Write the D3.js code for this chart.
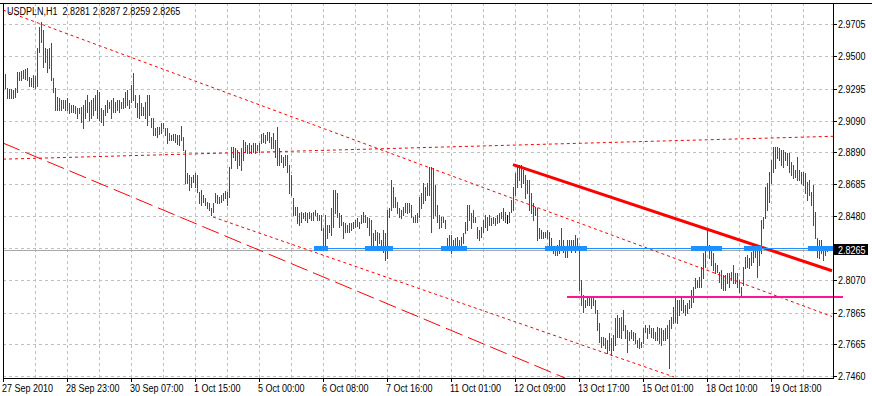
<!DOCTYPE html>
<html><head><meta charset="utf-8">
<script src="https://cdn.jsdelivr.net/npm/d3@7"></script>
<style>
html,body{margin:0;padding:0;background:#fff;overflow:hidden;}
svg{display:block;font-family:"Liberation Sans",Arial,sans-serif;font-size:11px;}
</style></head><body><svg id="c" width="872" height="396"></svg>
<script>
// ---------------- data ----------------
const symbolTitle = "USDPLN,H1  2.8281 2.8287 2.8259 2.8265";
const timeLabels = ["27 Sep 2010","28 Sep 23:00","30 Sep 07:00","1 Oct 15:00","5 Oct 00:00","6 Oct 08:00","7 Oct 16:00","11 Oct 01:00","12 Oct 09:00","13 Oct 17:00","15 Oct 01:00","18 Oct 10:00","19 Oct 18:00"];
const timeLabelBars = [0,32,64,96,128,160,192,224,256,288,320,352,384];
const priceTicks = [2.9705,2.9500,2.9295,2.9090,2.8890,2.8685,2.8480,2.8275,2.8070,2.7865,2.7665,2.7460];
const lastPrice = 2.8265;

// H1 bars: high, low, direction (G = up, R = down, D = unchanged)
const high = [
2.9381,2.9387,2.9298,2.9291,2.9291,2.9286,2.9298,2.9400,2.9400,2.9407,
2.9413,2.9419,2.9426,2.9368,2.9362,2.9381,2.9375,2.9554,2.9687,2.9719,
2.9669,2.9554,2.9547,2.9554,2.9586,2.9362,2.9298,2.9241,2.9235,2.9222,
2.9222,2.9222,2.9235,2.9203,2.9190,2.9190,2.9184,2.9171,2.9171,2.9177,
2.9190,2.9222,2.9254,2.9209,2.9222,2.9235,2.9254,2.9286,2.9273,2.9171,
2.9158,2.9190,2.9222,2.9209,2.9222,2.9235,2.9209,2.9222,2.9222,2.9209,
2.9235,2.9273,2.9286,2.9222,2.9317,2.9394,2.9254,2.9203,2.9254,2.9203,
2.9177,2.9209,2.9254,2.9254,2.9107,2.9107,2.9043,2.9049,2.9049,2.9075,
2.9075,2.9043,2.9043,2.9011,2.8998,2.9004,2.9004,2.8998,2.8998,2.9056,
2.8985,2.8903,2.8756,2.8743,2.8730,2.8743,2.8756,2.8743,2.8634,2.8647,
2.8615,2.8596,2.8571,2.8565,2.8533,2.8565,2.8628,2.8615,2.8602,2.8615,
2.8628,2.8641,2.8634,2.8794,2.8921,2.8921,2.8915,2.8903,2.8884,2.8915,
2.8966,2.8953,2.8934,2.8947,2.8934,2.8947,2.8947,2.8934,2.8947,2.9004,
2.9011,2.8998,2.9017,2.9017,2.8985,2.9011,2.8966,2.9049,2.8915,2.8871,
2.8858,2.8871,2.8871,2.8807,2.8743,2.8596,2.8539,2.8539,2.8501,2.8507,
2.8501,2.8507,2.8501,2.8507,2.8501,2.8507,2.8520,2.8501,2.8488,2.8488,
2.8405,2.8488,2.8424,2.8424,2.8533,2.8647,2.8647,2.8628,2.8501,2.8488,
2.8443,2.8437,2.8424,2.8437,2.8437,2.8443,2.8456,2.8469,2.8443,2.8488,
2.8507,2.8488,2.8475,2.8469,2.8456,2.8373,2.8392,2.8379,2.8373,2.8328,
2.8392,2.8373,2.8520,2.8533,2.8711,2.8666,2.8602,2.8571,2.8533,2.8520,
2.8539,2.8565,2.8565,2.8565,2.8552,2.8475,2.8488,2.8501,2.8602,2.8628,
2.8692,2.8666,2.8692,2.8794,2.8794,2.8788,2.8679,2.8552,2.8488,2.8475,
2.8475,2.8456,2.8341,2.8360,2.8360,2.8328,2.8341,2.8347,2.8328,2.8347,
2.8373,2.8443,2.8552,2.8552,2.8501,2.8520,2.8475,2.8411,2.8392,2.8411,
2.8456,2.8488,2.8475,2.8488,2.8469,2.8475,2.8469,2.8488,2.8501,2.8507,
2.8533,2.8507,2.8488,2.8507,2.8584,2.8666,2.8756,2.8807,2.8807,2.8807,
2.8775,2.8743,2.8711,2.8711,2.8628,2.8565,2.8539,2.8533,2.8405,2.8392,
2.8379,2.8379,2.8392,2.8379,2.8341,2.8283,2.8277,2.8296,2.8328,2.8405,
2.8328,2.8283,2.8328,2.8328,2.8328,2.8328,2.8360,2.8341,2.8277,2.8073,
2.7977,2.7945,2.7958,2.7958,2.7958,2.7958,2.7945,2.7881,2.7798,2.7709,
2.7709,2.7703,2.7690,2.7735,2.7703,2.7722,2.7830,2.7849,2.7830,2.7836,
2.7881,2.7786,2.7754,2.7741,2.7754,2.7741,2.7735,2.7690,2.7703,2.7677,
2.7767,2.7786,2.7767,2.7786,2.7767,2.7767,2.7741,2.7773,2.7767,2.7767,
2.7754,2.7767,2.7786,2.7817,2.7836,2.7900,2.7958,2.7945,2.7945,2.7958,
2.7945,2.7913,2.7926,2.7945,2.8009,2.8028,2.8086,2.8073,2.8092,2.8156,
2.8245,2.8277,2.8405,2.8296,2.8264,2.8245,2.8181,2.8169,2.8124,2.8137,
2.8105,2.8105,2.8118,2.8118,2.8124,2.8169,2.8118,2.8118,2.8073,2.8028,
2.8156,2.8219,2.8232,2.8213,2.8251,2.8264,2.8277,2.8283,2.8264,2.8456,
2.8475,2.8666,2.8692,2.8762,2.8839,2.8921,2.8921,2.8921,2.8915,2.8903,
2.8903,2.8890,2.8884,2.8884,2.8826,2.8807,2.8775,2.8858,2.8775,2.8762,
2.8762,2.8756,2.8698,2.8711,2.8634,2.8679,2.8507,2.8341,2.8328,2.8328,
2.8283,2.8290,2.8287];
const low = [
2.9216,2.9298,2.9235,2.9235,2.9235,2.9235,2.9241,2.9273,2.9349,2.9349,
2.9362,2.9355,2.9349,2.9311,2.9311,2.9304,2.9298,2.9311,2.9528,2.9592,
2.9432,2.9464,2.9400,2.9426,2.9349,2.9273,2.9158,2.9158,2.9158,2.9158,
2.9171,2.9158,2.9158,2.9139,2.9145,2.9145,2.9139,2.9107,2.9139,2.9081,
2.9043,2.9107,2.9145,2.9094,2.9107,2.9126,2.9158,2.9107,2.9094,2.9081,
2.9062,2.9126,2.9145,2.9171,2.9107,2.9145,2.9145,2.9158,2.9145,2.9171,
2.9171,2.9177,2.9190,2.9171,2.9209,2.9222,2.9177,2.9113,2.9107,2.9126,
2.9126,2.9107,2.9062,2.9126,2.9049,2.8998,2.8998,2.8985,2.9004,2.9011,
2.9043,2.8998,2.8947,2.8966,2.8966,2.8966,2.8953,2.8940,2.8934,2.8966,
2.8903,2.8692,2.8692,2.8647,2.8666,2.8698,2.8666,2.8634,2.8565,2.8552,
2.8571,2.8552,2.8533,2.8520,2.8488,2.8507,2.8571,2.8565,2.8565,2.8571,
2.8584,2.8596,2.8552,2.8602,2.8788,2.8858,2.8839,2.8788,2.8807,2.8775,
2.8839,2.8890,2.8884,2.8884,2.8884,2.8890,2.8884,2.8903,2.8890,2.8947,
2.8953,2.8947,2.8966,2.8953,2.8915,2.8915,2.8858,2.8807,2.8807,2.8826,
2.8794,2.8807,2.8762,2.8628,2.8615,2.8488,2.8488,2.8437,2.8424,2.8443,
2.8469,2.8456,2.8443,2.8469,2.8456,2.8456,2.8488,2.8456,2.8456,2.8392,
2.8296,2.8296,2.8341,2.8379,2.8360,2.8411,2.8501,2.8475,2.8411,2.8424,
2.8341,2.8379,2.8379,2.8379,2.8392,2.8405,2.8411,2.8418,2.8405,2.8437,
2.8443,2.8443,2.8411,2.8360,2.8283,2.8283,2.8328,2.8283,2.8309,2.8264,
2.8251,2.8200,2.8213,2.8475,2.8520,2.8539,2.8539,2.8501,2.8475,2.8469,
2.8488,2.8507,2.8501,2.8507,2.8475,2.8443,2.8443,2.8443,2.8475,2.8533,
2.8565,2.8584,2.8615,2.8615,2.8379,2.8469,2.8488,2.8443,2.8405,2.8411,
2.8443,2.8405,2.8277,2.8264,2.8245,2.8277,2.8277,2.8283,2.8283,2.8283,
2.8309,2.8373,2.8392,2.8456,2.8405,2.8443,2.8443,2.8341,2.8328,2.8347,
2.8379,2.8411,2.8392,2.8424,2.8424,2.8437,2.8424,2.8437,2.8443,2.8469,
2.8456,2.8443,2.8437,2.8443,2.8507,2.8520,2.8615,2.8666,2.8711,2.8666,
2.8692,2.8596,2.8628,2.8520,2.8501,2.8456,2.8488,2.8328,2.8341,2.8341,
2.8341,2.8347,2.8341,2.8296,2.8264,2.8245,2.8232,2.8232,2.8245,2.8277,
2.8251,2.8219,2.8219,2.8264,2.8251,2.8264,2.8251,2.8277,2.8009,2.7913,
2.7868,2.7900,2.7913,2.7913,2.7894,2.7913,2.7862,2.7754,2.7677,2.7645,
2.7658,2.7639,2.7607,2.7626,2.7594,2.7626,2.7658,2.7709,2.7709,2.7703,
2.7754,2.7703,2.7613,2.7690,2.7703,2.7690,2.7671,2.7645,2.7639,2.7645,
2.7671,2.7741,2.7703,2.7735,2.7709,2.7703,2.7690,2.7690,2.7671,2.7658,
2.7690,2.7690,2.7703,2.7511,2.7767,2.7798,2.7804,2.7798,2.7849,2.7881,
2.7868,2.7849,2.7862,2.7894,2.7900,2.7932,2.8022,2.8028,2.8028,2.8028,
2.8086,2.8156,2.8264,2.8213,2.8169,2.8137,2.8118,2.8124,2.8060,2.8022,
2.8009,2.8009,2.8054,2.8028,2.8073,2.8054,2.8054,2.8028,2.7996,2.7964,
2.8041,2.8150,2.8156,2.8150,2.8169,2.8187,2.8219,2.8092,2.8169,2.8245,
2.8405,2.8469,2.8520,2.8571,2.8692,2.8762,2.8788,2.8852,2.8839,2.8807,
2.8794,2.8839,2.8807,2.8762,2.8743,2.8724,2.8730,2.8711,2.8711,2.8692,
2.8679,2.8628,2.8584,2.8615,2.8552,2.8424,2.8341,2.8219,2.8213,2.8245,
2.8200,2.8232,2.8259];
const barDir = (
"GRRGRRGGRG"+"RGRRGRRGGR"+"GGRGRRRGRG"+"RRGRRGRRGR"+"GRGRGRGGRR"+
"RGGRRGRGRR"+"GGGGRRGGRG"+"RGRGRGRGRG"+"RRRRRRGRGR"+"RRRGRGRRRG"+
"RGRRGRRGRG"+"GGRGGRRRGR"+"GRGRGRRGRG"+"RGRGRRRRRG"+"RGRRRGGRGG"+
"GRGGRGGRGR"+"RRGGGGRRRG"+"GRRGGGGGRG"+"RRGRRRGGRR"+"RRGGGRRGRR"+
"GGGRRRGRGG"+"GRRGGRRRRR"+"GRRGRRGRGG"+"GGGRRGRRRG"+"GGRRGRGRGG"+
"GRDGGGGGRG"+"RRGRRRGRGR"+"GRGRRRRRGG"+"RRGRRGGRRR"+"RGGGRRRRRR"+
"GRRRRGGGRG"+"GRGRGGRRRR"+"GRGRRGRRRG"+"RGRGGGRGGG"+"RGRGGGGRGG"+
"RGGRRRGRRR"+"RRGRGRRRRR"+"GGRGGGRRRG"+"GGGRGGGRRG"+"RRGRRRRRRR"+
"GRRRRRRRGR"+"GGR").split("");

// chart objects (bar index, price)
const upperChannel = [[0,2.9796],[414.5,2.7840]];
const lowerChannel = [[105,2.8475],[335.5,2.7454]];
const flatDotted   = [[0,2.8844],[415,2.8990]];
const longDashLine = [[0,2.8947],[281,2.7447]];
const resistance   = [[255,2.8809],[414.5,2.8132]];
const supportLevel = {price:2.7964, from:282, to:420};
const blueLevel    = {price:2.8274, from:155.5, to:415};
const blueBlocks   = [[155.5,162.5],[181,195],[219,232],[271,292],[344,359.5],[370.5,379.5],[402.5,415]];

// ---------------- drawing ----------------
const W = 872, H = 396;
const L = 3, R = 833, T = 3, B = 378;
const NARROW = 0.82; // horizontal squeeze to emulate the narrow terminal font
const svg = d3.select("#c");
const x = d3.scaleLinear().domain([0,415]).range([L,R]);
const y = d3.scaleLinear().domain([2.7460,2.9860]).range([376,0]);
const crisp = v => Math.round(v)+0.5;

function narrowText(g, tx, ty, str, fill){
  return g.append("text")
    .attr("transform",`translate(${tx},${ty}) scale(${NARROW},1)`)
    .attr("fill",fill||"#000").style("white-space","pre").text(str);
}

svg.append("defs").append("clipPath").attr("id","plot")
  .append("rect").attr("x",L).attr("y",T).attr("width",R-L).attr("height",B-T);

const gGrid = svg.append("g").attr("shape-rendering","crispEdges");
gGrid.selectAll("line.v").data(d3.range(16,405,16)).join("line")
  .attr("x1",d=>crisp(x(d))).attr("x2",d=>crisp(x(d)))
  .attr("y1",T).attr("y2",B)
  .attr("stroke","#c0c0c0").attr("stroke-dasharray","3,3");
gGrid.selectAll("line.h").data(priceTicks).join("line")
  .attr("x1",L).attr("x2",R)
  .attr("y1",d=>crisp(y(d))).attr("y2",d=>crisp(y(d)))
  .attr("stroke","#c0c0c0").attr("stroke-dasharray","3,3");

const plot = svg.append("g").attr("clip-path","url(#plot)");

// bid line
plot.append("line").attr("shape-rendering","crispEdges")
  .attr("x1",L).attr("x2",R)
  .attr("y1",crisp(y(lastPrice))).attr("y2",crisp(y(lastPrice)))
  .attr("stroke","#a8a8a8");

// bars
const colorOf = {G:"#008000", R:"#ff0000", D:"#000000"};
plot.append("g").attr("shape-rendering","crispEdges")
  .selectAll("rect").data(high.map((h,i)=>({i,h,l:low[i],d:barDir[i]}))).join("rect")
  .attr("x",d=>Math.round(x(d.i)))
  .attr("width",1)
  .attr("y",d=>Math.round(y(d.h)))
  .attr("height",d=>Math.max(1,Math.round(y(d.l))-Math.round(y(d.h))+1))
  .attr("fill",d=>colorOf[d.d]);

const line = d3.line().x(d=>x(d[0])).y(d=>y(d[1]));
function drawLine(g, pts, color, width, dash){
  const p = g.append("path").attr("d",line(pts)).attr("fill","none")
    .attr("stroke",color).attr("stroke-width",width);
  if(dash) p.attr("stroke-dasharray",dash);
  return p;
}
drawLine(plot, upperChannel, "#ff0000", 1, "3,3");
drawLine(plot, lowerChannel, "#ff0000", 1, "3,3");
drawLine(plot, flatDotted, "#ff0000", 1, "3,3");
drawLine(plot, longDashLine, "#ff0000", 1, "18,6");

// blue level with thick blocks
const by = y(blueLevel.price);
svg.append("line").attr("shape-rendering","crispEdges")
  .attr("x1",x(blueLevel.from)).attr("x2",x(blueLevel.to))
  .attr("y1",crisp(by)).attr("y2",crisp(by))
  .attr("stroke","#1e90ff").attr("stroke-width",1);
svg.append("g").attr("shape-rendering","crispEdges").selectAll("rect").data(blueBlocks).join("rect")
  .attr("x",d=>x(d[0])).attr("width",d=>x(d[1])-x(d[0]))
  .attr("y",Math.round(by)-2).attr("height",5)
  .attr("fill","#1e90ff");

// thick resistance trendline
drawLine(plot, resistance, "#ff0000", 3, null);

// pink support level
svg.append("rect").attr("shape-rendering","crispEdges")
  .attr("x",x(supportLevel.from)).attr("width",x(supportLevel.to)-x(supportLevel.from))
  .attr("y",Math.round(y(supportLevel.price))-1).attr("height",2)
  .attr("fill","#ff1493");

// frame
const frame = svg.append("g").attr("shape-rendering","crispEdges").attr("stroke","#000");
frame.append("line").attr("x1",0).attr("x2",W).attr("y1",T+0.5).attr("y2",T+0.5);
frame.append("line").attr("x1",L+0.5).attr("x2",L+0.5).attr("y1",T).attr("y2",B+1);
frame.append("line").attr("x1",R+0.5).attr("x2",R+0.5).attr("y1",T).attr("y2",B+1);
frame.append("line").attr("x1",L).attr("x2",R+1).attr("y1",B+0.5).attr("y2",B+0.5);

// x axis ticks + labels
const xa = svg.append("g");
xa.selectAll("line").data(timeLabelBars).join("line").attr("shape-rendering","crispEdges")
  .attr("x1",d=>crisp(x(d))).attr("x2",d=>crisp(x(d)))
  .attr("y1",B).attr("y2",B+4).attr("stroke","#000");
timeLabels.forEach((t,i)=>narrowText(xa, x(timeLabelBars[i])-1, 392, t));

// y axis ticks + labels
const ya = svg.append("g");
ya.selectAll("line").data(priceTicks).join("line").attr("shape-rendering","crispEdges")
  .attr("x1",R).attr("x2",R+4)
  .attr("y1",d=>crisp(y(d))).attr("y2",d=>crisp(y(d))).attr("stroke","#000");
priceTicks.forEach(p=>narrowText(ya, R+5, y(p)+4, p.toFixed(4)));

// last price label
const ly = y(lastPrice);
svg.append("rect").attr("shape-rendering","crispEdges")
  .attr("x",R+1).attr("y",Math.round(ly)-6).attr("width",34).attr("height",11)
  .attr("fill","#000");
narrowText(svg, R+5, Math.round(ly)+3.5, lastPrice.toFixed(4), "#fff");

// title
narrowText(svg, 7, 15, symbolTitle);
</script></body></html>
